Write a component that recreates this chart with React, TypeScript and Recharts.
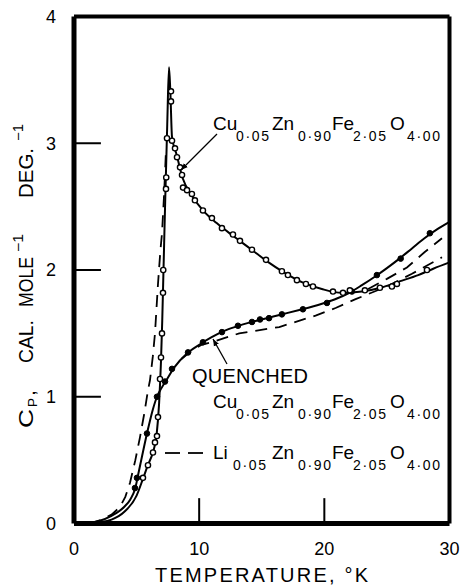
import React from 'react';
import { ComposedChart, Line, XAxis, YAxis, ReferenceLine } from 'recharts';

const FONT = '"Liberation Sans", Arial, sans-serif';

// Temperature (K), Cp (cal/mole/deg)
const ANNEALED_CURVE: [number, number][] = [
  [0.5, 0], [2, 0.01], [3, 0.03], [4, 0.09], [5, 0.22], [5.5, 0.35], [5.9, 0.46], [6.3, 0.56],
  [6.6, 0.7], [6.8, 0.95], [6.95, 1.28], [7.05, 1.6], [7.15, 2.0], [7.3, 2.6], [7.45, 3.15],
  [7.59, 3.6], [7.7, 3.4], [7.83, 3.05], [8.2, 2.91], [8.7, 2.72], [9.4, 2.59], [10.3, 2.47],
  [11.4, 2.37], [12.7, 2.27], [14.2, 2.16], [15.4, 2.07], [16.8, 1.98], [18.3, 1.9], [19.8, 1.85],
  [21.4, 1.82], [23, 1.83], [24.5, 1.86], [26, 1.91], [27.5, 1.96], [28.7, 2.01], [30, 2.06],
];

const ANNEALED_POINTS: [number, number][] = [
  [5.51, 0.36], [5.91, 0.46], [6.31, 0.56], [6.47, 0.64], [6.63, 0.69], [6.71, 0.84], [6.87, 1.14],
  [6.95, 1.31], [7.03, 1.5], [7.11, 1.82], [7.13, 2.0], [7.35, 2.64], [7.37, 2.73], [7.43, 3.04],
  [7.75, 3.41], [7.75, 3.33], [7.83, 3.02], [8.07, 2.96], [8.23, 2.89], [8.47, 2.81], [8.63, 2.75],
  [8.71, 2.65], [9.03, 2.63], [9.42, 2.6], [9.66, 2.55], [10.3, 2.47], [11.02, 2.41], [11.82, 2.33],
  [12.7, 2.28], [13.26, 2.23], [14.22, 2.16], [15.34, 2.08], [16.61, 1.99], [17.09, 1.96],
  [17.81, 1.92], [18.53, 1.89], [19.09, 1.87], [20.69, 1.83], [21.49, 1.82], [22.04, 1.84],
  [23.24, 1.84], [24.44, 1.86], [25.4, 1.87], [25.8, 1.89], [28.2, 2.0],
];

const QUENCHED_CURVE: [number, number][] = [
  [0.8, 0], [2, 0.02], [3, 0.06], [4, 0.13], [4.5, 0.19], [4.87, 0.27], [5.2, 0.42], [5.83, 0.71],
  [6.3, 0.9], [6.63, 1.0], [7.0, 1.07], [7.5, 1.15], [8, 1.23], [9, 1.34], [10, 1.41], [11, 1.47],
  [12, 1.52], [13, 1.555], [14, 1.585], [15, 1.61], [16, 1.635], [17, 1.66], [18, 1.685], [19, 1.71],
  [20, 1.74], [21, 1.775], [22, 1.82], [23, 1.88], [24, 1.945], [25, 2.015], [26, 2.09], [27, 2.17],
  [28, 2.25], [29, 2.32], [30, 2.38],
];

const QUENCHED_POINTS: [number, number][] = [
  [4.87, 0.28], [5.03, 0.36], [5.83, 0.71], [6.63, 1.0], [7.27, 1.12], [7.83, 1.22], [9.11, 1.35],
  [10.3, 1.43], [11.82, 1.51], [13.1, 1.56], [14.22, 1.59], [14.86, 1.61], [15.58, 1.62],
  [16.61, 1.65], [18.29, 1.69], [20.21, 1.74], [22.2, 1.83], [24.2, 1.96], [26.1, 2.09], [28.43, 2.29],
];

// null marks the break where the dashed curve is hidden behind the solid ones
const LI_CURVE: [number, number | null][] = [
  [1.2, 0], [2.2, 0.03], [3, 0.07], [3.67, 0.13], [4.1, 0.21], [4.47, 0.32], [4.9, 0.5], [5.27, 0.68],
  [5.6, 0.86], [5.91, 1.05], [6.07, 1.13], [6.3, 1.32], [6.47, 1.5], [6.71, 1.89], [6.9, 2.15],
  [7.03, 2.29], [7.2, 2.6], [7.35, 2.95], [7.5, null], [8.6, 1.3], [9.5, 1.37], [10.2, 1.41],
  [11.0, 1.43], [13.2, 1.5], [16.4, 1.55], [19.3, 1.64], [20.9, 1.7], [22.5, 1.77], [25, 1.87],
  [27, 1.97], [29.4, 2.1],
];

const LI_UPPER_BRANCH: [number, number][] = [
  [23.5, 1.85], [25, 1.93], [26.6, 2.02], [28, 2.14], [29.4, 2.25],
];

const X_TICKS = [0, 10, 20, 30];
const Y_TICKS = [0, 1, 2, 3, 4];
const INNER_X_TICKS = [10, 20];
const INNER_Y_TICKS = [1, 2, 3];

const FORMULA_CU: [string, string][] = [['Cu', '0·05'], ['Zn', '0·90'], ['Fe', '2·05'], ['O', '4·00']];
const FORMULA_LI: [string, string][] = [['Li', '0·05'], ['Zn', '0·90'], ['Fe', '2·05'], ['O', '4·00']];

const rows = (pairs: [number, number | null][]) => pairs.map(([t, c]) => ({ t, c }));

const MAIN_X = [0, 59, 119, 177];
const SUB_X_CU = [23, 85, 140, 194];
const SUB_X_LI = [20, 85, 140, 194];

function Formula({ x, y, parts, subX }: { x: number; y: number; parts: [string, string][]; subX: number[] }) {
  return (
    <g>
      {parts.map(([el, sub], i) => (
        <g key={i}>
          <text x={x + MAIN_X[i]} y={y} fontSize={19}>{el}</text>
          <text x={x + subX[i]} y={y + 11} fontSize={14} textLength={33} lengthAdjust="spacing">{sub}</text>
        </g>
      ))}
    </g>
  );
}

function Rot({ x, y, size, len, children }: { x: number; y: number; size: number; len: number; children: string }) {
  return (
    <text transform={`translate(${x},${y}) rotate(-90)`} fontSize={size} textLength={len} lengthAdjust="spacingAndGlyphs">
      {children}
    </text>
  );
}

export default function App() {
  const tickStyle = { fill: '#000', fontSize: 18, fontFamily: FONT };
  return (
    <div style={{ position: 'absolute', left: 0, top: 0, width: 465, height: 585, background: '#fff' }}>
      <div style={{ position: 'absolute', left: 0, top: 0 }}>
        <ComposedChart width={465} height={585} margin={{ top: 16.5, right: 15.5, bottom: 0, left: 14 }}>
          <XAxis
            type="number" dataKey="t" domain={[0, 30]} ticks={X_TICKS} interval={0}
            height={61.5} tickSize={0} tickMargin={19} allowDataOverflow
            axisLine={{ stroke: '#000', strokeWidth: 5 }} tickLine={false} tick={tickStyle}
          />
          <YAxis
            type="number" dataKey="c" domain={[0, 4]} ticks={Y_TICKS} interval={0}
            width={60} tickSize={0} tickMargin={18} allowDataOverflow
            axisLine={{ stroke: '#000', strokeWidth: 5 }} tickLine={false} tick={tickStyle}
          />
          <ReferenceLine y={4} stroke="#000" strokeWidth={4} />
          <ReferenceLine x={30} stroke="#000" strokeWidth={4} />
          {INNER_Y_TICKS.map((v) => (
            <ReferenceLine key={'y' + v} segment={[{ x: 0, y: v }, { x: 2.15, y: v }]} stroke="#000" strokeWidth={2} />
          ))}
          {INNER_X_TICKS.map((v) => (
            <ReferenceLine key={'x' + v} segment={[{ x: v, y: 0 }, { x: v, y: 0.2 }]} stroke="#000" strokeWidth={2} />
          ))}
          <Line data={rows(LI_CURVE)} dataKey="c" type="linear" connectNulls={false} stroke="#000" strokeWidth={1.8} strokeDasharray="12 8" dot={false} isAnimationActive={false} />
          <Line data={rows(LI_UPPER_BRANCH)} dataKey="c" type="linear" stroke="#000" strokeWidth={1.8} strokeDasharray="12 8" dot={false} isAnimationActive={false} />
          <Line data={rows(QUENCHED_CURVE)} dataKey="c" type="monotone" stroke="#000" strokeWidth={2} dot={false} isAnimationActive={false} />
          <Line data={rows(ANNEALED_CURVE)} dataKey="c" type="monotone" stroke="#000" strokeWidth={2} dot={false} isAnimationActive={false} />
          <Line data={rows(QUENCHED_POINTS)} dataKey="c" stroke="none" dot={{ r: 2.8, fill: '#000', stroke: '#000', strokeWidth: 1 }} isAnimationActive={false} />
          <Line data={rows(ANNEALED_POINTS)} dataKey="c" stroke="none" dot={{ r: 2.6, fill: '#fff', stroke: '#000', strokeWidth: 1.4 }} isAnimationActive={false} />
        </ComposedChart>
      </div>
      <svg width={465} height={585} style={{ position: 'absolute', left: 0, top: 0, pointerEvents: 'none' }} fontFamily={FONT} fill="#000">
        <defs>
          <marker id="ah" viewBox="0 0 10 10" refX="10" refY="5" markerWidth="7" markerHeight="7" orient="auto" markerUnits="userSpaceOnUse">
            <path d="M0,1 L10,5 L0,9 z" fill="#000" />
          </marker>
        </defs>
        {/* Y axis title */}
        <Rot x={33} y={428} size={21} len={19}>C</Rot>
        <Rot x={37} y={407} size={13} len={9}>P</Rot>
        <Rot x={35} y={396} size={21} len={6}>,</Rot>
        <Rot x={33} y={363} size={21} len={43}>CAL.</Rot>
        <Rot x={33} y={307} size={21} len={50}>MOLE</Rot>
        <Rot x={23} y={252} size={14} len={18}>−1</Rot>
        <Rot x={33} y={198} size={21} len={50}>DEG.</Rot>
        <Rot x={23} y={141} size={14} len={17}>−1</Rot>
        {/* X axis title */}
        <text x={155} y={582} fontSize={20} textLength={213} lengthAdjust="spacing">TEMPERATURE,  °K</text>
        {/* annotations */}
        <Formula x={213} y={130} parts={FORMULA_CU} subX={SUB_X_CU} />
        <line x1={217} y1={134} x2={181} y2={170} stroke="#000" strokeWidth={1.3} markerEnd="url(#ah)" />
        <text x={192} y={383} fontSize={20} textLength={116} lengthAdjust="spacing">QUENCHED</text>
        <line x1={227} y1={364} x2={213} y2={339} stroke="#000" strokeWidth={1.3} markerEnd="url(#ah)" />
        <Formula x={213} y={408} parts={FORMULA_CU} subX={SUB_X_CU} />
        <line x1={165} y1={453} x2={180} y2={453} stroke="#000" strokeWidth={1.8} />
        <line x1={188} y1={453} x2={203} y2={453} stroke="#000" strokeWidth={1.8} />
        <Formula x={213} y={459} parts={FORMULA_LI} subX={SUB_X_LI} />
      </svg>
    </div>
  );
}
